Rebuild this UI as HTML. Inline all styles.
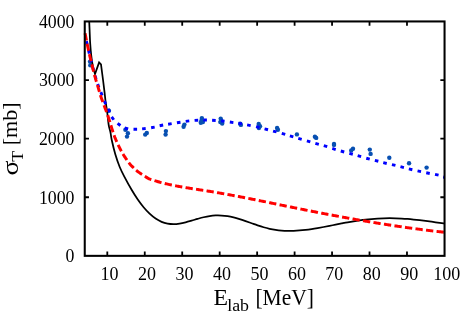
<!DOCTYPE html>
<html><head><meta charset="utf-8"><title>chart</title>
<style>
html,body{margin:0;padding:0;background:#fff;}
body{width:471px;height:330px;overflow:hidden;}
svg{display:block;will-change:transform;}
text{font-family:"Liberation Serif",serif;fill:#000;filter:grayscale(1);}
</style></head><body>
<svg width="471" height="330" viewBox="0 0 471 330">
<rect width="471" height="330" fill="#fff"/>
<circle cx="90.00" cy="61.60" r="2.2" fill="#0850b2"/>
<circle cx="90.30" cy="65.20" r="2.2" fill="#0850b2"/>
<circle cx="108.90" cy="110.80" r="2.2" fill="#0850b2"/>
<circle cx="125.40" cy="129.80" r="2.2" fill="#0850b2"/>
<circle cx="127.90" cy="133.30" r="2.2" fill="#0850b2"/>
<circle cx="127.00" cy="136.60" r="2.2" fill="#0850b2"/>
<circle cx="146.80" cy="133.00" r="2.2" fill="#0850b2"/>
<circle cx="145.20" cy="134.60" r="2.2" fill="#0850b2"/>
<circle cx="165.90" cy="131.10" r="2.2" fill="#0850b2"/>
<circle cx="165.60" cy="134.60" r="2.2" fill="#0850b2"/>
<circle cx="183.60" cy="126.80" r="2.2" fill="#0850b2"/>
<circle cx="184.40" cy="124.60" r="2.2" fill="#0850b2"/>
<circle cx="201.85" cy="118.10" r="2.2" fill="#0850b2"/>
<circle cx="200.80" cy="122.80" r="2.2" fill="#0850b2"/>
<circle cx="202.90" cy="122.00" r="2.2" fill="#0850b2"/>
<circle cx="201.60" cy="120.30" r="2.2" fill="#0850b2"/>
<circle cx="220.70" cy="118.60" r="2.2" fill="#0850b2"/>
<circle cx="220.30" cy="122.10" r="2.2" fill="#0850b2"/>
<circle cx="222.20" cy="123.60" r="2.2" fill="#0850b2"/>
<circle cx="221.40" cy="120.60" r="2.2" fill="#0850b2"/>
<circle cx="240.20" cy="123.80" r="2.2" fill="#0850b2"/>
<circle cx="240.90" cy="124.90" r="2.2" fill="#0850b2"/>
<circle cx="258.70" cy="124.00" r="2.2" fill="#0850b2"/>
<circle cx="260.00" cy="126.30" r="2.2" fill="#0850b2"/>
<circle cx="258.90" cy="128.00" r="2.2" fill="#0850b2"/>
<circle cx="277.10" cy="128.00" r="2.2" fill="#0850b2"/>
<circle cx="277.90" cy="129.70" r="2.2" fill="#0850b2"/>
<circle cx="296.90" cy="134.40" r="2.2" fill="#0850b2"/>
<circle cx="314.90" cy="136.70" r="2.2" fill="#0850b2"/>
<circle cx="316.20" cy="137.90" r="2.2" fill="#0850b2"/>
<circle cx="334.00" cy="143.90" r="2.2" fill="#0850b2"/>
<circle cx="334.00" cy="144.90" r="2.2" fill="#0850b2"/>
<circle cx="353.00" cy="148.70" r="2.2" fill="#0850b2"/>
<circle cx="351.20" cy="150.40" r="2.2" fill="#0850b2"/>
<circle cx="369.80" cy="149.60" r="2.2" fill="#0850b2"/>
<circle cx="370.60" cy="153.90" r="2.2" fill="#0850b2"/>
<circle cx="389.30" cy="157.80" r="2.2" fill="#0850b2"/>
<circle cx="409.05" cy="163.30" r="2.2" fill="#0850b2"/>
<circle cx="426.60" cy="167.60" r="2.2" fill="#0850b2"/>
<path d="M89.20,21.00 C89.27,22.50 89.43,26.25 89.60,30.00 C89.77,33.75 89.93,39.33 90.20,43.50 C90.47,47.67 90.77,51.25 91.20,55.00 C91.63,58.75 92.17,62.83 92.80,66.00 C93.43,69.17 94.63,72.67 95.00,74.00 L99.10,62.50 L101.00,64.50  C101.35,67.17 102.49,75.72 103.10,80.50 C103.71,85.28 104.27,89.95 104.65,93.20 C105.03,96.45 105.09,97.62 105.40,100.00 C105.71,102.38 106.18,105.33 106.50,107.50 C106.82,109.67 106.93,110.08 107.30,113.00 C107.67,115.92 108.18,121.83 108.70,125.00 C109.22,128.17 109.88,129.45 110.40,132.00 C110.92,134.55 110.98,136.58 111.80,140.30 C112.62,144.02 113.98,149.85 115.30,154.30 C116.62,158.75 118.08,163.07 119.70,167.00 C121.32,170.93 123.02,174.10 125.00,177.90 C126.98,181.70 129.50,186.25 131.60,189.81 C133.70,193.37 135.60,196.35 137.60,199.25 C139.60,202.15 141.60,204.80 143.60,207.20 C145.60,209.59 147.60,211.74 149.60,213.63 C151.60,215.51 153.60,217.15 155.60,218.51 C157.60,219.88 159.60,220.97 161.60,221.82 C163.60,222.67 165.60,223.22 167.60,223.59 C169.60,223.97 171.60,224.09 173.60,224.08 C175.60,224.08 177.60,223.86 179.60,223.57 C181.60,223.28 183.60,222.82 185.60,222.34 C187.60,221.86 189.60,221.26 191.60,220.68 C193.60,220.11 195.60,219.46 197.60,218.89 C199.60,218.31 201.60,217.72 203.60,217.24 C205.60,216.77 207.60,216.33 209.60,216.04 C211.60,215.74 213.60,215.56 215.60,215.47 C217.60,215.39 219.60,215.41 221.60,215.53 C223.60,215.66 225.60,215.88 227.60,216.20 C229.60,216.52 231.60,216.95 233.60,217.43 C235.60,217.92 237.60,218.51 239.60,219.13 C241.60,219.74 243.60,220.43 245.60,221.12 C247.60,221.81 249.60,222.54 251.60,223.25 C253.60,223.95 255.60,224.68 257.60,225.34 C259.60,226.01 261.60,226.67 263.60,227.25 C265.60,227.83 267.60,228.36 269.60,228.80 C271.60,229.24 273.60,229.60 275.60,229.90 C277.60,230.19 279.60,230.41 281.60,230.56 C283.60,230.72 285.60,230.81 287.60,230.85 C289.60,230.89 291.60,230.86 293.60,230.80 C295.60,230.73 297.60,230.61 299.60,230.45 C301.60,230.29 303.60,230.08 305.60,229.85 C307.60,229.62 309.60,229.34 311.60,229.04 C313.60,228.75 315.60,228.42 317.60,228.08 C319.60,227.73 321.60,227.36 323.60,226.99 C325.60,226.61 327.60,226.22 329.60,225.83 C331.60,225.44 333.60,225.03 335.60,224.64 C337.60,224.24 339.60,223.84 341.60,223.46 C343.60,223.08 345.60,222.69 347.60,222.34 C349.60,221.98 351.60,221.64 353.60,221.32 C355.60,221.00 357.60,220.70 359.60,220.42 C361.60,220.15 363.60,219.89 365.60,219.66 C367.60,219.43 369.60,219.23 371.60,219.05 C373.60,218.87 375.60,218.72 377.60,218.59 C379.60,218.47 381.60,218.37 383.60,218.31 C385.60,218.24 387.60,218.21 389.60,218.20 C391.60,218.20 393.60,218.23 395.60,218.28 C397.60,218.34 399.60,218.43 401.60,218.54 C403.60,218.66 405.60,218.80 407.60,218.96 C409.60,219.12 411.60,219.31 413.60,219.51 C415.60,219.71 417.60,219.93 419.60,220.17 C421.60,220.40 423.60,220.65 425.60,220.91 C427.60,221.17 429.60,221.44 431.60,221.71 C433.60,221.98 435.60,222.27 437.60,222.55 C439.60,222.83 442.37,223.23 443.60,223.40 C444.83,223.58 444.77,223.57 445.00,223.60" fill="none" stroke="#000" stroke-width="1.75" stroke-linejoin="miter"/>
<path d="M86.39,41.15 L87.21,44.65 M88.48,50.05 L89.32,53.55 M90.56,58.75 L91.44,62.25 M92.73,67.26 L93.67,70.74 M95.08,75.78 L96.12,79.22 M97.69,84.11 L98.91,87.49 M100.83,92.13 L102.17,95.47 M104.27,100.85 L105.73,104.15 M108.11,108.98 L109.69,112.22 M111.64,116.85 L113.76,119.75 M117.56,123.33 L120.44,125.47 M124.67,127.99 L128.13,129.01 M133.50,129.18 L137.10,129.22 M142.11,128.88 L145.69,128.52 M151.13,127.73 L154.67,127.07 M159.64,125.76 L163.16,125.04 M168.12,124.20 L171.68,123.60 M176.92,122.78 L180.48,122.22 M185.71,121.32 L189.29,120.88 M194.60,120.41 L198.20,120.19 M203.30,119.99 L206.90,120.01 M212.10,120.29 L215.70,120.51 M221.01,120.91 L224.59,121.29 M229.82,122.04 L233.38,122.56 M238.42,123.30 L241.98,123.90 M247.13,124.85 L250.67,125.55 M256.05,126.69 L259.55,127.51 M264.56,128.85 L268.04,129.75 M273.06,131.03 L276.54,131.97 M281.77,133.41 L285.23,134.39 M289.87,135.79 L293.33,136.81 M298.28,138.28 L301.72,139.32 M306.88,140.89 L310.32,141.91 M315.37,143.41 L318.83,144.39 M323.78,145.68 L327.22,146.72 M332.28,148.46 L335.72,149.54 M340.77,151.01 L344.23,151.99 M349.36,153.33 L352.84,154.27 M357.67,155.60 L361.13,156.60 M366.26,158.23 L369.74,159.17 M374.86,160.35 L378.34,161.25 M383.25,162.67 L386.75,163.53 M391.95,164.59 L395.45,165.41 M400.46,166.66 L403.94,167.54 M408.85,168.88 L412.35,169.72 M417.54,170.82 L421.06,171.58 M426.24,172.74 L429.76,173.46 M435.04,174.40 L438.56,175.20 M443.20,177.00 L444.60,177.30" fill="none" stroke="#0000ff" stroke-width="2.9"/>
<path d="M85.07,33.34 L85.26,34.32 L85.46,35.31 L85.65,36.29 L85.84,37.27 L86.04,38.25 L86.23,39.23 L86.43,40.21 L86.49,40.50 M87.15,43.76 L87.35,44.74 L87.56,45.71 L87.77,46.69 L87.98,47.67 L88.19,48.65 L88.41,49.62 L88.62,50.60 L88.69,50.89 M89.41,54.13 L89.62,55.11 L89.85,56.09 L90.07,57.06 L90.31,58.03 L90.55,59.00 L90.79,59.97 L91.03,60.94 L91.10,61.24 M91.87,64.46 L92.10,65.44 L92.34,66.41 L92.57,67.38 L92.81,68.35 L93.05,69.32 L93.29,70.29 L93.53,71.26 L93.60,71.56 M94.44,74.77 L94.70,75.73 L94.97,76.70 L95.24,77.66 L95.51,78.62 L95.79,79.58 L96.07,80.54 L96.35,81.50 L96.44,81.79 M97.39,84.97 L97.68,85.93 L97.97,86.89 L98.26,87.84 L98.54,88.80 L98.83,89.76 L99.11,90.72 L99.39,91.68 L99.47,91.97 M100.40,95.16 L100.70,96.11 L101.02,97.06 L101.35,98.00 L101.68,98.94 L102.03,99.88 L102.37,100.82 L102.72,101.76 L102.83,102.04 M104.00,105.14 L104.35,106.08 L104.69,107.02 L105.04,107.96 L105.39,108.89 L105.74,109.83 L106.09,110.77 L106.44,111.70 L106.55,111.99 M107.67,115.11 L107.99,116.06 L108.30,117.01 L108.60,117.96 L108.90,118.91 L109.20,119.87 L109.49,120.83 L109.79,121.78 L109.87,122.07 M110.88,125.23 L111.18,126.19 L111.47,127.14 L111.76,128.10 L112.05,129.06 L112.34,130.01 L112.64,130.97 L112.94,131.92 L113.03,132.21 M114.09,135.34 L114.44,136.27 L114.80,137.21 L115.18,138.13 L115.56,139.06 L115.95,139.98 L116.35,140.89 L116.76,141.81 L116.81,141.93 M118.17,144.87 L118.60,145.78 L119.04,146.68 L119.48,147.57 L119.93,148.46 L120.39,149.35 L120.85,150.24 L121.33,151.12 L121.39,151.24 M123.00,154.05 L123.52,154.91 L124.05,155.76 L124.59,156.60 L125.14,157.43 L125.70,158.26 L126.26,159.09 L126.84,159.91 L126.91,160.02 M128.83,162.64 L129.44,163.43 L130.07,164.20 L130.73,164.95 L131.41,165.69 L132.11,166.40 L132.83,167.10 L133.55,167.79 L133.73,167.96 M136.17,170.21 L136.93,170.86 L137.71,171.48 L138.51,172.08 L139.32,172.67 L140.14,173.25 L140.96,173.81 L141.79,174.37 L142.04,174.54 M144.83,176.34 L145.68,176.86 L146.54,177.38 L147.40,177.88 L148.28,178.35 L149.18,178.79 L150.10,179.19 L151.04,179.53 L151.32,179.62 M154.50,180.57 L155.46,180.88 L156.41,181.18 L157.37,181.47 L158.33,181.75 L159.29,182.03 L160.25,182.30 L161.22,182.56 L161.51,182.64 M164.72,183.46 L165.69,183.70 L166.67,183.93 L167.64,184.15 L168.62,184.37 L169.59,184.59 L170.57,184.80 L171.55,185.01 L171.84,185.07 M175.10,185.73 L176.08,185.92 L177.06,186.10 L178.04,186.29 L179.03,186.47 L180.01,186.65 L181.00,186.82 L181.98,186.99 L182.28,187.04 M185.55,187.59 L186.54,187.76 L187.53,187.91 L188.51,188.07 L189.50,188.23 L190.49,188.38 L191.48,188.54 L192.46,188.69 L192.76,188.74 M196.04,189.24 L197.03,189.39 L198.02,189.54 L199.01,189.69 L200.00,189.84 L200.99,189.99 L201.97,190.14 L202.96,190.30 L203.26,190.34 M206.54,190.86 L207.53,191.01 L208.51,191.17 L209.50,191.33 L210.49,191.49 L211.47,191.65 L212.46,191.82 L213.45,191.98 L213.74,192.03 M217.02,192.58 L218.00,192.75 L218.99,192.92 L219.97,193.10 L220.96,193.27 L221.94,193.44 L222.93,193.62 L223.91,193.79 L224.21,193.84 M227.48,194.43 L228.46,194.61 L229.44,194.79 L230.43,194.97 L231.41,195.16 L232.39,195.34 L233.38,195.52 L234.36,195.71 L234.65,195.76 M237.92,196.38 L238.90,196.57 L239.88,196.75 L240.86,196.94 L241.84,197.13 L242.83,197.32 L243.81,197.51 L244.79,197.70 L245.08,197.76 M248.34,198.40 L249.32,198.59 L250.30,198.79 L251.28,198.98 L252.26,199.18 L253.25,199.37 L254.23,199.57 L255.21,199.77 L255.50,199.83 M258.76,200.48 L259.74,200.68 L260.72,200.88 L261.70,201.08 L262.68,201.27 L263.66,201.47 L264.64,201.67 L265.62,201.87 L265.91,201.93 M269.16,202.60 L270.14,202.80 L271.12,203.00 L272.10,203.20 L273.08,203.40 L274.06,203.60 L275.04,203.80 L276.02,204.00 L276.31,204.06 M279.57,204.73 L280.55,204.93 L281.52,205.13 L282.50,205.33 L283.48,205.53 L284.46,205.74 L285.44,205.94 L286.42,206.14 L286.72,206.20 M289.97,206.86 L290.95,207.06 L291.93,207.26 L292.91,207.46 L293.89,207.66 L294.87,207.86 L295.85,208.06 L296.83,208.26 L297.12,208.32 M300.38,208.97 L301.36,209.17 L302.34,209.37 L303.32,209.56 L304.30,209.76 L305.28,209.95 L306.26,210.15 L307.24,210.34 L307.54,210.40 M310.79,211.05 L311.77,211.24 L312.76,211.43 L313.74,211.63 L314.72,211.82 L315.70,212.01 L316.68,212.20 L317.66,212.39 L317.96,212.45 M321.22,213.08 L322.20,213.27 L323.18,213.46 L324.16,213.65 L325.14,213.83 L326.13,214.02 L327.11,214.21 L328.09,214.40 L328.39,214.45 M331.65,215.07 L332.63,215.25 L333.61,215.44 L334.60,215.62 L335.58,215.80 L336.56,215.99 L337.55,216.17 L338.53,216.35 L338.83,216.41 M342.09,217.01 L343.07,217.19 L344.06,217.36 L345.04,217.54 L346.03,217.72 L347.01,217.90 L347.99,218.08 L348.98,218.25 L349.27,218.31 M352.54,218.89 L353.53,219.06 L354.51,219.24 L355.50,219.41 L356.48,219.58 L357.47,219.75 L358.45,219.93 L359.44,220.10 L359.73,220.15 M363.01,220.71 L363.99,220.88 L364.98,221.05 L365.96,221.21 L366.95,221.38 L367.93,221.55 L368.92,221.71 L369.91,221.88 L370.20,221.93 M373.48,222.47 L374.47,222.63 L375.45,222.79 L376.44,222.95 L377.43,223.11 L378.41,223.27 L379.40,223.43 L380.39,223.59 L380.68,223.64 M383.96,224.16 L384.95,224.31 L385.94,224.47 L386.93,224.62 L387.92,224.77 L388.90,224.93 L389.89,225.08 L390.88,225.23 L391.18,225.28 M394.46,225.77 L395.45,225.92 L396.44,226.07 L397.43,226.21 L398.42,226.36 L399.41,226.50 L400.40,226.65 L401.39,226.79 L401.68,226.84 M404.97,227.31 L405.96,227.45 L406.95,227.59 L407.94,227.73 L408.93,227.86 L409.92,228.00 L410.91,228.14 L411.90,228.27 L412.20,228.31 M415.49,228.76 L416.48,228.89 L417.47,229.02 L418.46,229.15 L419.45,229.28 L420.45,229.41 L421.44,229.54 L422.43,229.67 L422.73,229.70 M426.02,230.12 L427.01,230.24 L428.01,230.37 L429.00,230.49 L429.99,230.61 L430.98,230.73 L431.98,230.85 L432.97,230.97 L433.27,231.00 M436.56,231.39 L437.56,231.50 L438.55,231.62 L439.55,231.73 L440.54,231.84 L441.53,231.95 L442.53,232.06 L443.52,232.17 L443.82,232.20" fill="none" stroke="#ff0000" stroke-width="2.95"/>
<path d="M107.30,255.85 v-4.3 M107.30,21.45 v4.3 M144.76,255.85 v-4.3 M144.76,21.45 v4.3 M182.22,255.85 v-4.3 M182.22,21.45 v4.3 M219.68,255.85 v-4.3 M219.68,21.45 v4.3 M257.14,255.85 v-4.3 M257.14,21.45 v4.3 M294.60,255.85 v-4.3 M294.60,21.45 v4.3 M332.06,255.85 v-4.3 M332.06,21.45 v4.3 M369.52,255.85 v-4.3 M369.52,21.45 v4.3 M406.98,255.85 v-4.3 M406.98,21.45 v4.3 M84.75,197.25 h4.2 M444.55,197.25 h-4.2 M84.75,138.65 h4.2 M444.55,138.65 h-4.2 M84.75,80.05 h4.2 M444.55,80.05 h-4.2" fill="none" stroke="#000" stroke-width="1.8"/>
<rect x="84.75" y="21.45" width="359.80" height="234.40" fill="none" stroke="#000" stroke-width="2.05"/>
<text x="109.60" y="279.8" font-size="18" text-anchor="middle">10</text>
<text x="147.06" y="279.8" font-size="18" text-anchor="middle">20</text>
<text x="184.52" y="279.8" font-size="18" text-anchor="middle">30</text>
<text x="221.98" y="279.8" font-size="18" text-anchor="middle">40</text>
<text x="259.44" y="279.8" font-size="18" text-anchor="middle">50</text>
<text x="296.90" y="279.8" font-size="18" text-anchor="middle">60</text>
<text x="334.36" y="279.8" font-size="18" text-anchor="middle">70</text>
<text x="371.82" y="279.8" font-size="18" text-anchor="middle">80</text>
<text x="409.28" y="279.8" font-size="18" text-anchor="middle">90</text>
<text x="446.74" y="279.8" font-size="18" text-anchor="middle">100</text>
<text x="74.5" y="262.27" font-size="17.8" text-anchor="end">0</text>
<text x="74.5" y="203.59" font-size="17.8" text-anchor="end">1000</text>
<text x="74.5" y="144.91" font-size="17.8" text-anchor="end">2000</text>
<text x="74.5" y="86.23" font-size="17.8" text-anchor="end">3000</text>
<text x="74.5" y="27.55" font-size="17.8" text-anchor="end">4000</text>
<text transform="translate(213.51,305.00) scale(1.080,1.040)" font-size="22">E</text>
<text transform="translate(227.19,311.45) scale(1.015,1.000)" font-size="17.6">lab</text>
<text transform="translate(255.40,305.00) scale(0.980,1.040)" font-size="22">[MeV]</text>
<g transform="translate(18.0,174.4) rotate(-90)"><text transform="translate(-1.04,0.00) scale(1.250,1.050)" font-size="22">σ</text><text transform="translate(12.70,5.10) scale(1.000,1.000)" font-size="17.6">T</text><text transform="translate(29.10,-0.60) scale(1.000,1.000)" font-size="22">[mb]</text></g>
</svg>
</body></html>
